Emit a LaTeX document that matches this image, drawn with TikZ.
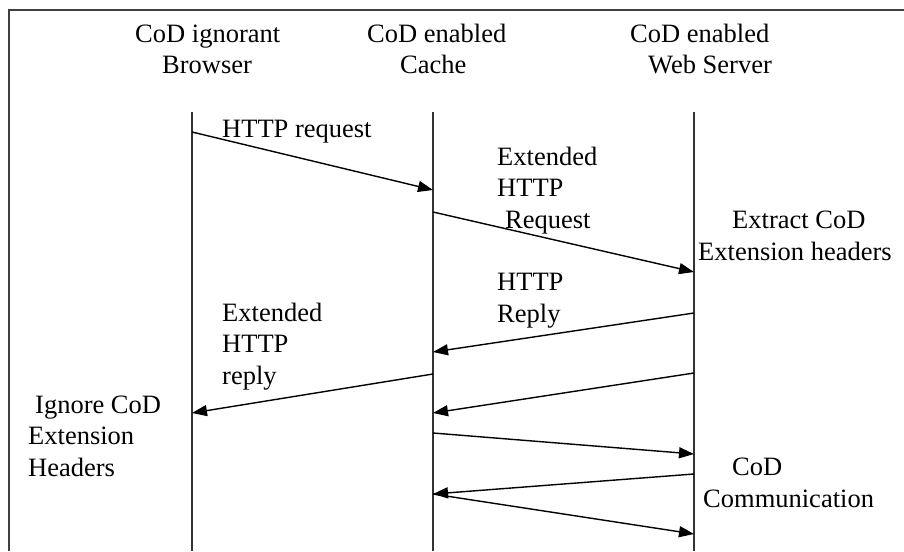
\documentclass[tikz,border=0pt]{standalone}
\usepackage{fontspec}
\setmainfont{Liberation Serif}
\usetikzlibrary{arrows.meta}
\begin{document}
\begin{tikzpicture}[x=1pt,y=-1pt,
  lbl/.style={inner sep=0pt,anchor=base west,align=left,font=\fontsize{26.5}{31.2}\selectfont},
  life/.style={line width=1.3pt,draw=black!80},
  msg/.style={line width=1.4pt,-{Triangle[length=15pt,width=11pt]}},
  frame/.style={line width=1.4pt,draw=black!75}]
\useasboundingbox (0,0) rectangle (904,551);
\fill[white] (0,0) rectangle (904,551);
% frame (top and left edges)
\coordinate (fa) at (9,551);
\coordinate (fb) at (9,10);
\coordinate (fc) at (904,10);
\draw[frame] (fa) -- (fb) -- (fc);
% headers (anchor = baseline of last line)
\node[lbl] (hb) at (135,74) {CoD ignorant\\\hspace*{27pt}Browser};
\node[lbl] (hc) at (367,74) {CoD enabled\\\hspace*{33pt}Cache};
\node[lbl] (hs) at (630,74) {CoD enabled\\\hspace*{18pt}Web Server};
% lifelines
\coordinate (bt) at (192,112); \coordinate (bb) at (192,551);
\coordinate (ct) at (433,112); \coordinate (cb) at (433,551);
\coordinate (st) at (694,112); \coordinate (sb) at (694,551);
\draw[life] (bt) -- (bb);
\draw[life] (ct) -- (cb);
\draw[life] (st) -- (sb);
% message end points
\coordinate (m1a) at (192,132); \coordinate (m1b) at (433,190);
\coordinate (m2a) at (433,212); \coordinate (m2b) at (694,272);
\coordinate (m3a) at (694,313); \coordinate (m3b) at (433,352);
\coordinate (m4a) at (433,374); \coordinate (m4b) at (192,413);
\coordinate (m5a) at (694,373); \coordinate (m5b) at (433,413);
\coordinate (m6a) at (433,433); \coordinate (m6b) at (694,454);
\coordinate (m7a) at (694,474); \coordinate (m7b) at (433,494);
\coordinate (m8a) at (433,494); \coordinate (m8b) at (694,534);
\draw[msg] (m1a) -- (m1b);
\draw[msg] (m2a) -- (m2b);
\draw[msg] (m3a) -- (m3b);
\draw[msg] (m4a) -- (m4b);
\draw[msg] (m5a) -- (m5b);
\draw[msg] (m6a) -- (m6b);
\draw[msg] (m7a) -- (m7b);
\draw[msg] (m8a) -- (m8b);
% labels (anchor = baseline of last line)
\node[lbl] (l1) at (222,137) {HTTP request};
\node[lbl] (l2) at (497,228) {Extended\\HTTP\\\hspace*{8pt}Request};
\node[lbl] (l3) at (698,260) {\hspace*{34pt}Extract CoD\\Extension headers};
\node[lbl] (l4) at (497,322) {HTTP\\Reply};
\node[lbl] (l5) at (222,384) {Extended\\HTTP\\reply};
\node[lbl] (l6) at (28,476) {\hspace*{7pt}Ignore CoD\\Extension\\Headers};
\node[lbl] (l7) at (703,507) {\hspace*{29pt}CoD\\Communication};
\end{tikzpicture}
\end{document}
